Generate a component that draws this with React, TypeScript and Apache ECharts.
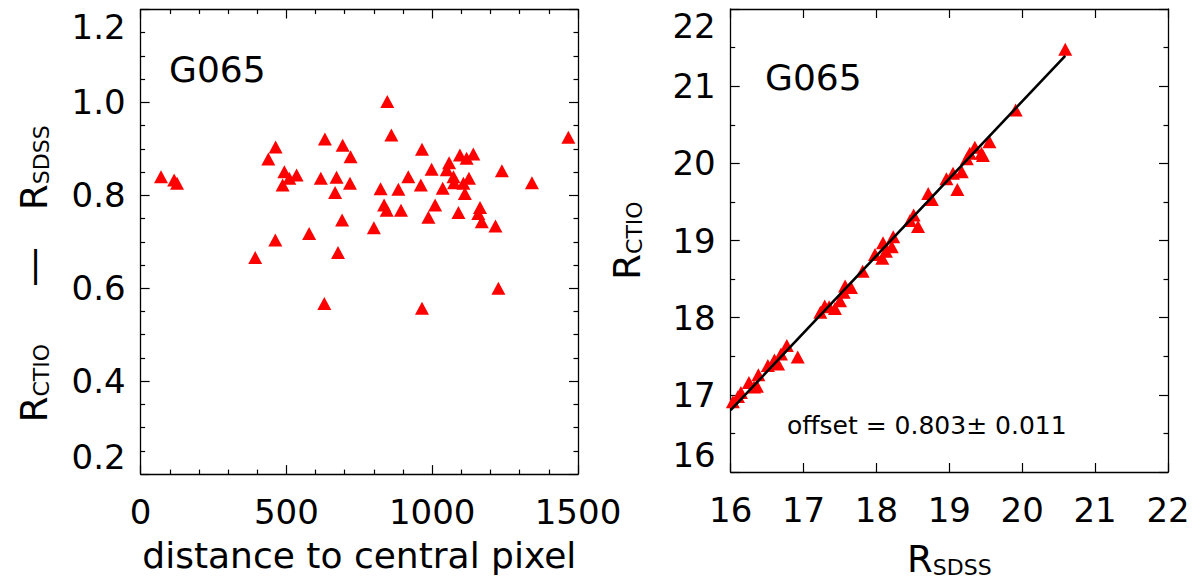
import React, { useEffect, useRef } from "react";
import * as echarts from "echarts";

const FONT = "'DejaVu Sans', sans-serif";

// Left panel: distance to central pixel vs R_CTIO - R_SDSS
const distance = [70, 115, 125, 393, 438, 463, 462, 493, 510, 487, 535, 578, 618, 632, 630, 672, 667, 691, 677, 693, 720, 718, 800, 823, 835, 844, 846, 860, 884, 893, 918, 961, 965, 965, 987, 998, 1010, 1036, 1050, 1058, 1073, 1075, 1090, 1095, 1107, 1112, 1118, 1126, 1141, 1164, 1158, 1170, 1217, 1227, 1239, 1342, 1467];
const diff = [0.840, 0.833, 0.826, 0.666, 0.878, 0.904, 0.704, 0.851, 0.837, 0.822, 0.844, 0.718, 0.837, 0.921, 0.567, 0.839, 0.806, 0.747, 0.677, 0.908, 0.883, 0.826, 0.730, 0.814, 0.779, 0.768, 1.002, 0.930, 0.813, 0.768, 0.840, 0.822, 0.899, 0.557, 0.753, 0.856, 0.779, 0.815, 0.855, 0.870, 0.840, 0.827, 0.763, 0.887, 0.826, 0.804, 0.880, 0.837, 0.889, 0.774, 0.761, 0.743, 0.734, 0.600, 0.853, 0.827, 0.925];

// Right panel: R_SDSS vs R_CTIO
const rSdss = [16.03, 16.10, 16.14, 16.25, 16.32, 16.36, 16.38, 16.51, 16.60, 16.65, 16.69, 16.77, 16.92, 17.23, 17.29, 17.35, 17.43, 17.50, 17.55, 17.57, 17.65, 17.81, 17.98, 18.08, 18.09, 18.13, 18.21, 18.23, 18.46, 18.51, 18.57, 18.71, 18.76, 18.96, 19.05, 19.11, 19.17, 19.24, 19.28, 19.35, 19.44, 19.46, 19.55, 19.91, 20.59];
const rCtio = [16.91, 16.98, 17.03, 17.16, 17.10, 17.11, 17.26, 17.38, 17.45, 17.40, 17.53, 17.64, 17.49, 18.07, 18.15, 18.14, 18.12, 18.22, 18.33, 18.41, 18.39, 18.60, 18.82, 18.77, 18.97, 18.86, 18.92, 19.05, 19.26, 19.33, 19.18, 19.61, 19.53, 19.80, 19.87, 19.66, 19.89, 20.06, 20.13, 20.21, 20.13, 20.10, 20.28, 20.69, 21.48];

// Fitted line (offset = 0.803)
const fitSdss = [16.0, 20.59];
const fitCtio = [16.803, 21.393];

const leftXTicks = { min: 0, max: 1500, interval: 500, minor: 5 };
const leftYTicks = { min: 0.2, max: 1.2, interval: 0.2, minor: 4 };
const rightTicks = { min: 16, max: 22, interval: 1 };

const labelText = "G065";
const offsetText = "offset = 0.803\u00b1 0.011";

const AX = "#000";

function xAxis(gridIndex: number, position: "bottom" | "top", t: any, minor: number, showLabel: boolean, extra: any = {}) {
  return {
    type: "value",
    gridIndex,
    position,
    min: t.min,
    max: t.max,
    interval: t.interval,
    splitLine: { show: false },
    axisLine: { show: true, onZero: false, lineStyle: { color: AX, width: 1.3 } },
    axisTick: { show: true, inside: true, length: 9, lineStyle: { color: AX, width: 1.2 } },
    minorTick: { show: minor > 0, splitNumber: minor || 5, length: 4.5, lineStyle: { color: AX, width: 1.2 } },
    axisLabel: {
      show: showLabel,
      margin: 21,
      color: "#000",
      fontFamily: FONT,
      fontSize: 34,
      formatter: (v: number) => String(Math.round(v)),
    },
    ...extra,
  };
}

function yAxis(gridIndex: number, position: "left" | "right", t: any, minor: number, showLabel: boolean, fmt: (v: number) => string, extra: any = {}) {
  return {
    type: "value",
    gridIndex,
    position,
    min: t.min,
    max: t.max,
    interval: t.interval,
    splitLine: { show: false },
    axisLine: { show: true, onZero: false, lineStyle: { color: AX, width: 1.3 } },
    axisTick: { show: true, inside: true, length: 9, lineStyle: { color: AX, width: 1.2 } },
    minorTick: { show: minor > 0, splitNumber: minor || 5, length: 4.5, lineStyle: { color: AX, width: 1.2 } },
    axisLabel: {
      show: showLabel,
      margin: 15,
      color: "#000",
      fontFamily: FONT,
      fontSize: 34,
      formatter: fmt,
      verticalAlignMinLabel: "bottom",
      verticalAlignMaxLabel: "top",
    },
    ...extra,
  };
}

const richName = {
  r: { fontFamily: FONT, fontSize: 37, color: "#000", lineHeight: 40, verticalAlign: "bottom" },
  s: { fontFamily: FONT, fontSize: 22, color: "#000", lineHeight: 31, verticalAlign: "bottom" },
  d: { fontFamily: FONT, fontSize: 40, color: "#000", lineHeight: 44, verticalAlign: "bottom", padding: [0, 37, 0, 57] },
};

export default function App() {
  const ref = useRef<HTMLDivElement>(null);
  useEffect(() => {
    const chart = echarts.init(ref.current!, null, { renderer: "svg" });
    const option: any = {
      animation: false,
      backgroundColor: "#fff",
      grid: [
        { left: 140.6, top: 9.5, width: 437.4, height: 464.6 },
        { left: 730.7, top: 9.0, width: 437.3, height: 465 },
      ],
      xAxis: [
        xAxis(0, "bottom", leftXTicks, leftXTicks.minor, true, {
          name: "distance to central pixel",
          nameLocation: "middle",
          nameGap: 63,
          nameTextStyle: { fontFamily: FONT, fontSize: 36, color: "#000" },
        }),
        xAxis(0, "top", leftXTicks, leftXTicks.minor, false),
        xAxis(1, "bottom", rightTicks, 0, true, {
          name: "{r|R}{s|SDSS}",
          nameLocation: "middle",
          nameGap: 66,
          nameTextStyle: { rich: richName },
        }),
        xAxis(1, "top", rightTicks, 0, false),
      ],
      yAxis: [
        yAxis(0, "left", leftYTicks, leftYTicks.minor, true, (v: number) => v.toFixed(1), {
          name: "{r|R}{s|CTIO}{d|\u2014}{r|R}{s|SDSS}",
          nameLocation: "middle",
          nameGap: 88,
          nameRotate: 90,
          nameTextStyle: { rich: richName, padding: [0, 64, 0, 0] },
        }),
        yAxis(0, "right", leftYTicks, leftYTicks.minor, false, (v: number) => v.toFixed(1)),
        yAxis(1, "left", rightTicks, 2, true, (v: number) => String(Math.round(v)), {
          name: "{r|R}{s|CTIO}",
          nameLocation: "middle",
          nameGap: 85,
          nameRotate: 90,
          nameTextStyle: { rich: richName },
        }),
        yAxis(1, "right", rightTicks, 2, false, (v: number) => String(Math.round(v))),
      ],
      series: [
        {
          type: "scatter",
          xAxisIndex: 0,
          yAxisIndex: 0,
          symbol: "triangle",
          symbolSize: [14, 13],
          itemStyle: { color: "#ff0000", opacity: 1 },
          data: distance.map((d, i) => [d, diff[i]]),
          z: 2,
        },
        {
          type: "scatter",
          xAxisIndex: 2,
          yAxisIndex: 2,
          symbol: "triangle",
          symbolSize: [14, 13],
          itemStyle: { color: "#ff0000", opacity: 1 },
          data: rSdss.map((d, i) => [d, rCtio[i]]),
          z: 2,
        },
        {
          type: "line",
          xAxisIndex: 2,
          yAxisIndex: 2,
          showSymbol: false,
          symbol: "none",
          lineStyle: { color: "#000", width: 2.6 },
          data: fitSdss.map((d, i) => [d, fitCtio[i]]),
          z: 3,
        },
      ],
      graphic: [
        {
          type: "text",
          left: 169,
          top: 51,
          style: { text: labelText, font: `36px ${FONT}`, fill: "#000" },
        },
        {
          type: "text",
          left: 765,
          top: 59,
          style: { text: labelText, font: `36px ${FONT}`, fill: "#000" },
        },
        {
          type: "text",
          left: 787,
          top: 413,
          style: { text: offsetText, font: `25px ${FONT}`, fill: "#000" },
        },
      ],
    };
    chart.setOption(option);
    return () => chart.dispose();
  }, []);
  return (
    <div
      ref={ref}
      style={{ position: "absolute", left: 0, top: 0, width: 1204, height: 583, background: "#fff" }}
    />
  );
}
